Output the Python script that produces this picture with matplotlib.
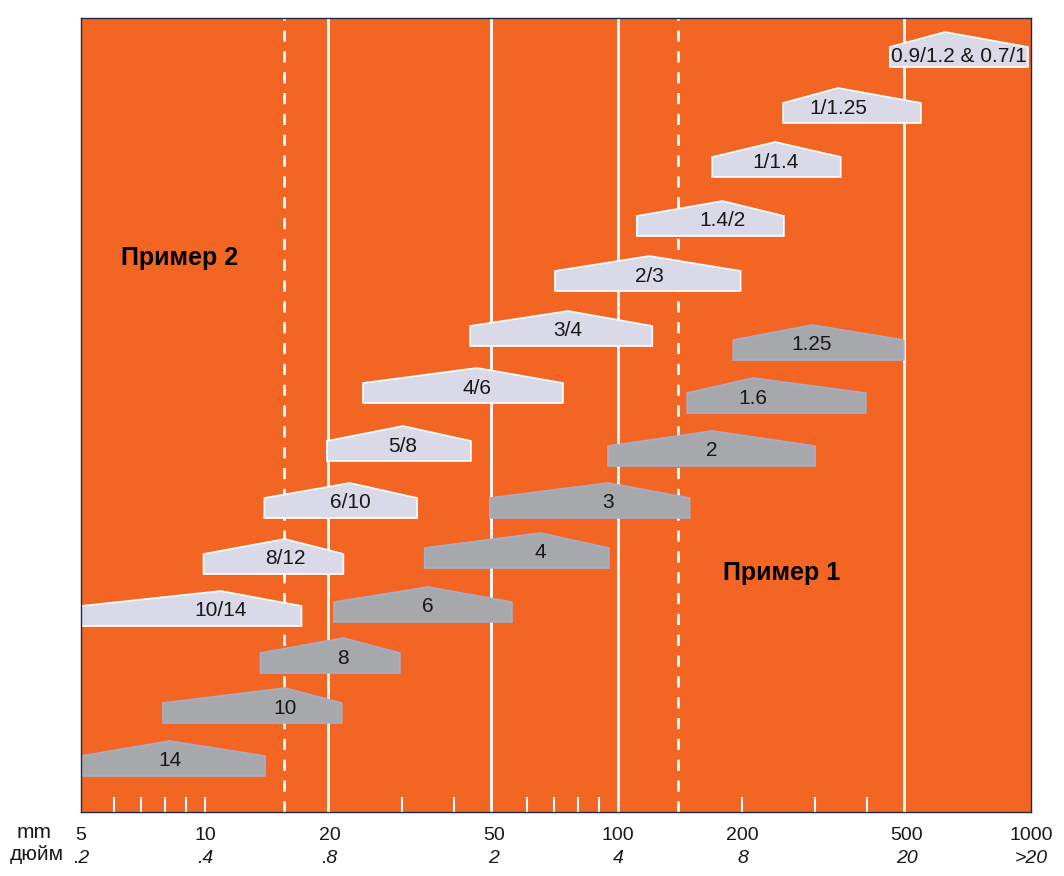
import matplotlib
matplotlib.use("Agg")
import matplotlib.pyplot as plt
from matplotlib.patches import Polygon

plt.rcParams['font.family'] = ['Liberation Sans', 'DejaVu Sans']

# shapes for "Пример 2" (light): label, left / peak / right in mm, base level
light_labels = ["10/14", "8/12", "6/10", "5/8", "4/6", "3/4", "2/3",
                "1.4/2", "1/1.4", "1/1.25", "0.9/1.2 & 0.7/1"]
light_left = [5, 9.9, 13.9, 19.7, 24.1, 43.8, 70.3, 111, 169, 251, 455]
light_peak = [10.9, 15.6, 22.4, 30.1, 45.5, 75.6, 119, 179, 240, 341, 619]
light_right = [17.1, 21.6, 32.6, 44, 73.5, 121, 198, 252, 346, 541, 983]
light_base = [186, 238, 294, 351, 409, 466, 521, 576, 635, 689, 745]

# shapes for "Пример 1" (grey)
gray_labels = ["14", "10", "8", "6", "4", "3", "2", "1.6", "1.25"]
gray_left = [5, 7.9, 13.6, 20.5, 34, 48.9, 94.5, 147, 190]
gray_peak = [8.2, 15.6, 21.6, 34.6, 64.7, 94.5, 169, 212, 295]
gray_right = [13.95, 21.4, 29.6, 55.3, 95, 149, 300, 398, 492]
gray_base = [36, 89, 139, 190, 244, 294, 346, 399, 452]

# axis
mm_ticks = [5, 10, 20, 50, 100, 200, 500, 1000]
inch_labels = [".2", ".4", ".8", "2", "4", "8", "20", ">20"]
full_lines = [19.8, 49.2, 100, 493]   # as drawn in the original
dashed_lines = [15.5, 140]
short_ticks = [6, 7, 8, 9, 10, 30, 40, 60, 70, 80, 90, 200, 300, 400]

ORANGE = "#f36523"
LIGHT = "#d9d9e8"
GREY = "#a7a8ac"
TEXT = "#1a1718"

RECT_H = 20
PEAK_H = 15

fig = plt.figure(figsize=(10.64, 8.76), dpi=100)
ax = fig.add_axes([81 / 1064, 64 / 876, 950 / 1064, 794 / 876])
ax.set_facecolor(ORANGE)
ax.set_xscale("log")
ax.set_xlim(5, 1000)
ax.set_ylim(0, 794)

for x in full_lines:
    ax.axvline(x, color="white", lw=2, zorder=1)
for x in dashed_lines:
    ax.axvline(x, color="white", lw=2, ls=(0, (4, 3.5)), zorder=1)
ax.vlines(short_ticks, 0, 15, color="white", lw=1.5, zorder=1)


def draw_shapes(labels, left, peak, right, base, fill, edge):
    for lab, l, p, r, b in zip(labels, left, peak, right, base):
        pts = [(l, b), (l, b + RECT_H), (p, b + RECT_H + PEAK_H),
               (r, b + RECT_H), (r, b)]
        ax.add_patch(Polygon(pts, closed=True, facecolor=fill,
                             edgecolor=edge, lw=1.2, zorder=2))
        tx, ty = p, b + 15
        if len(lab) > 8:  # long label sits in the middle of the box
            tx, ty = (l * r) ** 0.5, b + 11
        ax.text(tx, ty, lab, ha="center", va="center", fontsize=15,
                color=TEXT, zorder=3)


draw_shapes(light_labels, light_left, light_peak, light_right, light_base,
            LIGHT, "white")
draw_shapes(gray_labels, gray_left, gray_peak, gray_right, gray_base,
            GREY, "#a9acc8")

ax.text(8.68, 554, "Пример 2", ha="center", va="center",
        fontsize=18, fontweight="bold", color="black")
ax.text(249, 239, "Пример 1", ha="center", va="center",
        fontsize=18, fontweight="bold", color="black")

ax.set_yticks([])
ax.minorticks_off()
ax.set_xticks(mm_ticks)
ax.set_xticklabels([str(t) for t in mm_ticks], fontsize=14, color=TEXT)
ax.tick_params(axis="x", length=0, pad=11)
for t, lab in zip(mm_ticks, inch_labels):
    ax.text(t, -0.058, lab, transform=ax.get_xaxis_transform(),
            ha="center", va="center", fontsize=14, style="italic", color=TEXT)

fig.text(34 / 1064, 1 - 833 / 876, "mm", ha="center", va="center",
         fontsize=15, color=TEXT)
fig.text(37 / 1064, 1 - 855 / 876, "дюйм", ha="center", va="center",
         fontsize=15, color=TEXT)

for s in ax.spines.values():
    s.set_color("#1c2a48")
    s.set_linewidth(1)

fig.savefig("out.png", dpi=100)
